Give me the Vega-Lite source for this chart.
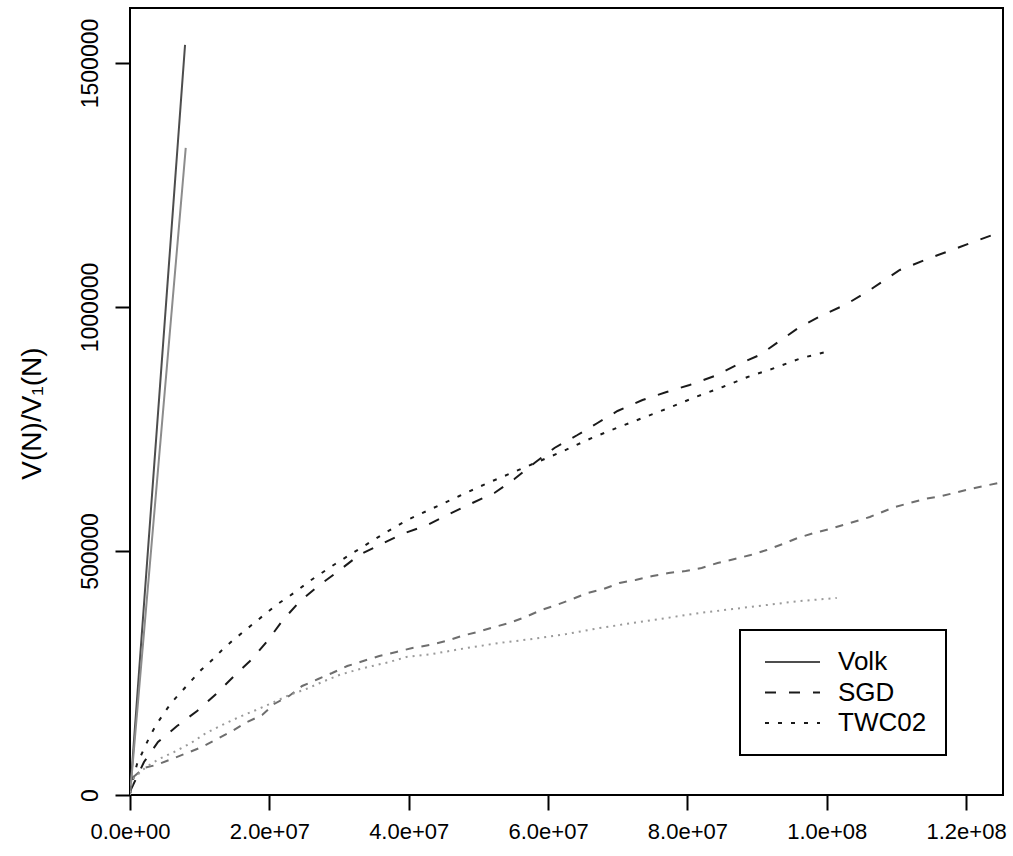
{
  "$schema": "https://vega.github.io/schema/vega-lite/v6.json",
  "autosize": "none",
  "width": 873,
  "height": 787,
  "padding": {"left": 130, "top": 8, "right": 10, "bottom": 61},
  "background": "white",
  "config": {
    "view": {"stroke": "black", "strokeWidth": 2},
    "font": "Liberation Sans",
    "axis": {"grid": false, "domain": false, "tickColor": "black", "tickWidth": 2, "tickSize": 15, "labelColor": "black", "labelFont": "Liberation Sans", "titleFont": "Liberation Sans", "titleColor": "black", "titleFontWeight": "normal"},
    "legend": {"title": null, "orient": "none", "legendX": 610, "legendY": 622,
        "symbolType": "M-5,0H5", "symbolSize": 121, "symbolFillColor": "transparent", "symbolOffset": 20.5,
        "labelOffset": 32.5, "labelFontSize": 26, "labelFont": "Liberation Sans", "labelColor": "black",
        "padding": 19, "rowPadding": 4.5, "strokeColor": "black", "fillColor": "white", "cornerRadius": 0}
  },
  "data": {"values": [
    {"s": "Volk", "x": 0, "y": 0}, {"s": "Volk", "x": 7900000, "y": 1537000},
    {"s": "Volk-b", "x": 0, "y": 0}, {"s": "Volk-b", "x": 8000000, "y": 1326000},
    {"s": "SGD", "x": 100000, "y": 10000}, {"s": "SGD", "x": 2010000, "y": 67600}, {"s": "SGD", "x": 4020000, "y": 108600}, {"s": "SGD", "x": 6750000, "y": 141400}, {"s": "SGD", "x": 9630000, "y": 172100}, {"s": "SGD", "x": 12360000, "y": 207000}, {"s": "SGD", "x": 14800000, "y": 241800}, {"s": "SGD", "x": 17530000, "y": 278700}, {"s": "SGD", "x": 19830000, "y": 317600}, {"s": "SGD", "x": 21840000, "y": 356600}, {"s": "SGD", "x": 24280000, "y": 395500}, {"s": "SGD", "x": 27010000, "y": 428300}, {"s": "SGD", "x": 29740000, "y": 457000}, {"s": "SGD", "x": 32900000, "y": 491800}, {"s": "SGD", "x": 35780000, "y": 512300}, {"s": "SGD", "x": 39080000, "y": 534800}, {"s": "SGD", "x": 42670000, "y": 553300}, {"s": "SGD", "x": 45830000, "y": 575800}, {"s": "SGD", "x": 49140000, "y": 598400}, {"s": "SGD", "x": 52300000, "y": 618900}, {"s": "SGD", "x": 55170000, "y": 647500}, {"s": "SGD", "x": 58050000, "y": 680300}, {"s": "SGD", "x": 60920000, "y": 711100}, {"s": "SGD", "x": 64220000, "y": 737700}, {"s": "SGD", "x": 67100000, "y": 762300}, {"s": "SGD", "x": 69970000, "y": 786900}, {"s": "SGD", "x": 73560000, "y": 809400}, {"s": "SGD", "x": 77010000, "y": 825800}, {"s": "SGD", "x": 80320000, "y": 840200}, {"s": "SGD", "x": 83910000, "y": 858600}, {"s": "SGD", "x": 87070000, "y": 881100}, {"s": "SGD", "x": 90370000, "y": 901600}, {"s": "SGD", "x": 93250000, "y": 930300}, {"s": "SGD", "x": 96120000, "y": 959000}, {"s": "SGD", "x": 99420000, "y": 983600}, {"s": "SGD", "x": 102870000, "y": 1006100}, {"s": "SGD", "x": 106180000, "y": 1034800}, {"s": "SGD", "x": 110490000, "y": 1075800}, {"s": "SGD", "x": 114800000, "y": 1100400}, {"s": "SGD", "x": 119110000, "y": 1122900}, {"s": "SGD", "x": 125300000, "y": 1155700},
    {"s": "TWC02", "x": 50000, "y": 5000}, {"s": "TWC02", "x": 290000, "y": 24600}, {"s": "TWC02", "x": 1010000, "y": 63500}, {"s": "TWC02", "x": 1870000, "y": 90200}, {"s": "TWC02", "x": 2730000, "y": 116800}, {"s": "TWC02", "x": 3740000, "y": 143400}, {"s": "TWC02", "x": 4890000, "y": 168000}, {"s": "TWC02", "x": 6030000, "y": 190600}, {"s": "TWC02", "x": 7470000, "y": 213100}, {"s": "TWC02", "x": 8760000, "y": 233600}, {"s": "TWC02", "x": 10200000, "y": 256100}, {"s": "TWC02", "x": 11780000, "y": 276600}, {"s": "TWC02", "x": 13220000, "y": 297100}, {"s": "TWC02", "x": 14660000, "y": 315600}, {"s": "TWC02", "x": 16240000, "y": 334000}, {"s": "TWC02", "x": 17820000, "y": 352500}, {"s": "TWC02", "x": 19400000, "y": 370900}, {"s": "TWC02", "x": 20980000, "y": 389300}, {"s": "TWC02", "x": 22700000, "y": 405700}, {"s": "TWC02", "x": 24280000, "y": 422100}, {"s": "TWC02", "x": 26010000, "y": 440600}, {"s": "TWC02", "x": 27730000, "y": 457000}, {"s": "TWC02", "x": 29450000, "y": 473400}, {"s": "TWC02", "x": 32900000, "y": 504100}, {"s": "TWC02", "x": 36350000, "y": 534800}, {"s": "TWC02", "x": 39800000, "y": 563500}, {"s": "TWC02", "x": 43530000, "y": 588100}, {"s": "TWC02", "x": 47270000, "y": 612700}, {"s": "TWC02", "x": 51010000, "y": 637300}, {"s": "TWC02", "x": 54740000, "y": 659800}, {"s": "TWC02", "x": 58480000, "y": 682400}, {"s": "TWC02", "x": 62210000, "y": 704900}, {"s": "TWC02", "x": 65950000, "y": 729500}, {"s": "TWC02", "x": 69830000, "y": 752000}, {"s": "TWC02", "x": 73560000, "y": 772500}, {"s": "TWC02", "x": 77300000, "y": 793000}, {"s": "TWC02", "x": 81180000, "y": 815600}, {"s": "TWC02", "x": 85060000, "y": 836100}, {"s": "TWC02", "x": 88650000, "y": 856600}, {"s": "TWC02", "x": 92530000, "y": 875000}, {"s": "TWC02", "x": 96410000, "y": 895500}, {"s": "TWC02", "x": 100430000, "y": 909800},
    {"s": "SGD-b", "x": 50000, "y": 5000}, {"s": "SGD-b", "x": 290000, "y": 34800}, {"s": "SGD-b", "x": 2010000, "y": 55300}, {"s": "SGD-b", "x": 3740000, "y": 61500}, {"s": "SGD-b", "x": 6030000, "y": 73800}, {"s": "SGD-b", "x": 8190000, "y": 86100}, {"s": "SGD-b", "x": 10340000, "y": 98400}, {"s": "SGD-b", "x": 12500000, "y": 114800}, {"s": "SGD-b", "x": 14660000, "y": 131100}, {"s": "SGD-b", "x": 16810000, "y": 149600}, {"s": "SGD-b", "x": 18970000, "y": 163900}, {"s": "SGD-b", "x": 20690000, "y": 186500}, {"s": "SGD-b", "x": 22840000, "y": 202900}, {"s": "SGD-b", "x": 24710000, "y": 223400}, {"s": "SGD-b", "x": 27010000, "y": 237700}, {"s": "SGD-b", "x": 29020000, "y": 250000}, {"s": "SGD-b", "x": 31180000, "y": 264300}, {"s": "SGD-b", "x": 33480000, "y": 274600}, {"s": "SGD-b", "x": 35780000, "y": 284800}, {"s": "SGD-b", "x": 38220000, "y": 293000}, {"s": "SGD-b", "x": 40520000, "y": 301200}, {"s": "SGD-b", "x": 42960000, "y": 307400}, {"s": "SGD-b", "x": 45400000, "y": 315600}, {"s": "SGD-b", "x": 47560000, "y": 325800}, {"s": "SGD-b", "x": 49860000, "y": 334000}, {"s": "SGD-b", "x": 52300000, "y": 344300}, {"s": "SGD-b", "x": 54450000, "y": 352500}, {"s": "SGD-b", "x": 56750000, "y": 364800}, {"s": "SGD-b", "x": 59050000, "y": 379100}, {"s": "SGD-b", "x": 61210000, "y": 389300}, {"s": "SGD-b", "x": 63510000, "y": 401600}, {"s": "SGD-b", "x": 65660000, "y": 413900}, {"s": "SGD-b", "x": 67960000, "y": 422100}, {"s": "SGD-b", "x": 70260000, "y": 434400}, {"s": "SGD-b", "x": 72560000, "y": 440600}, {"s": "SGD-b", "x": 75000000, "y": 448800}, {"s": "SGD-b", "x": 77300000, "y": 454900}, {"s": "SGD-b", "x": 79740000, "y": 459000}, {"s": "SGD-b", "x": 82040000, "y": 465200}, {"s": "SGD-b", "x": 84340000, "y": 475400}, {"s": "SGD-b", "x": 86780000, "y": 483600}, {"s": "SGD-b", "x": 89080000, "y": 491800}, {"s": "SGD-b", "x": 91380000, "y": 502000}, {"s": "SGD-b", "x": 93680000, "y": 514300}, {"s": "SGD-b", "x": 95830000, "y": 526600}, {"s": "SGD-b", "x": 98130000, "y": 536900}, {"s": "SGD-b", "x": 100430000, "y": 545100}, {"s": "SGD-b", "x": 102870000, "y": 555300}, {"s": "SGD-b", "x": 106180000, "y": 569700}, {"s": "SGD-b", "x": 109770000, "y": 590200}, {"s": "SGD-b", "x": 114080000, "y": 606600}, {"s": "SGD-b", "x": 116520000, "y": 612700}, {"s": "SGD-b", "x": 118820000, "y": 620900}, {"s": "SGD-b", "x": 121260000, "y": 629100}, {"s": "SGD-b", "x": 125300000, "y": 641400},
    {"s": "TWC02-b", "x": 50000, "y": 5000}, {"s": "TWC02-b", "x": 290000, "y": 30700}, {"s": "TWC02-b", "x": 2300000, "y": 57400}, {"s": "TWC02-b", "x": 4170000, "y": 73800}, {"s": "TWC02-b", "x": 6320000, "y": 88100}, {"s": "TWC02-b", "x": 8760000, "y": 106600}, {"s": "TWC02-b", "x": 10920000, "y": 127000}, {"s": "TWC02-b", "x": 13220000, "y": 143400}, {"s": "TWC02-b", "x": 15660000, "y": 159800}, {"s": "TWC02-b", "x": 18100000, "y": 174200}, {"s": "TWC02-b", "x": 20400000, "y": 188500}, {"s": "TWC02-b", "x": 22840000, "y": 204900}, {"s": "TWC02-b", "x": 25290000, "y": 217200}, {"s": "TWC02-b", "x": 27590000, "y": 231600}, {"s": "TWC02-b", "x": 30030000, "y": 245900}, {"s": "TWC02-b", "x": 32470000, "y": 256100}, {"s": "TWC02-b", "x": 34770000, "y": 264300}, {"s": "TWC02-b", "x": 37210000, "y": 272500}, {"s": "TWC02-b", "x": 39660000, "y": 282800}, {"s": "TWC02-b", "x": 43390000, "y": 288900}, {"s": "TWC02-b", "x": 48280000, "y": 301200}, {"s": "TWC02-b", "x": 53020000, "y": 311500}, {"s": "TWC02-b", "x": 57760000, "y": 319700}, {"s": "TWC02-b", "x": 62640000, "y": 329900}, {"s": "TWC02-b", "x": 67390000, "y": 342200}, {"s": "TWC02-b", "x": 72130000, "y": 352500}, {"s": "TWC02-b", "x": 77010000, "y": 362700}, {"s": "TWC02-b", "x": 81750000, "y": 373000}, {"s": "TWC02-b", "x": 86490000, "y": 381100}, {"s": "TWC02-b", "x": 91380000, "y": 389300}, {"s": "TWC02-b", "x": 96120000, "y": 397500}, {"s": "TWC02-b", "x": 101440000, "y": 403700}
  ]},
  "mark": {"type": "line", "clip": true, "strokeCap": "butt"},
  "encoding": {
    "x": {"field": "x", "type": "quantitative", "scale": {"domain": [0, 125300000], "nice": false, "zero": false},
      "axis": {"values": [0, 20000000, 40000000, 60000000, 80000000, 100000000, 120000000], "labelExpr": "slice(format(datum.value,'.1e'),0,5) + '0' + slice(format(datum.value,'.1e'),5)", "labelFontSize": 22, "labelPadding": 11, "title": null, "labelFlush": false, "labelOverlap": false}},
    "y": {"field": "y", "type": "quantitative", "scale": {"domain": [0, 1612700], "nice": false, "zero": false},
      "axis": {"values": [0, 500000, 1000000, 1500000], "format": "d", "labelFontSize": 23, "labelAngle": 270, "labelAlign": "center", "labelBaseline": "alphabetic", "labelPadding": 18, "labelFlush": false, "labelOverlap": false,
        "title": "V(N)/V₁(N)", "titleFontSize": 28, "titleAngle": 270, "titleAlign": "center", "titleBaseline": "alphabetic", "titleX": -90, "titleY": 405}},
    "color": {"field": "s", "type": "nominal",
      "scale": {"domain": ["Volk", "Volk-b", "SGD", "SGD-b", "TWC02", "TWC02-b"], "range": ["#4d4d4d", "#8c8c8c", "#1a1a1a", "#6e6e6e", "#1a1a1a", "#9a9a9a"]},
      "legend": {"values": ["Volk", "SGD", "TWC02"], "encode": {"legend": {"update": {"strokeWidth": {"value": 2}}}, "symbols": {"update": {"strokeWidth": {"value": 4}, "stroke": {"signal": "datum.value === 'Volk' ? '#666666' : '#111111'"}}}}}},
    "strokeWidth": {"field": "s", "type": "nominal",
      "scale": {"domain": ["Volk", "Volk-b", "SGD", "SGD-b", "TWC02", "TWC02-b"], "range": [2, 2, 3.2, 2, 4, 2]},
      "legend": {"values": ["Volk", "SGD", "TWC02"], "encode": {"legend": {"update": {"strokeWidth": {"value": 2}}}, "symbols": {"update": {"strokeWidth": {"value": 4}, "stroke": {"signal": "datum.value === 'Volk' ? '#666666' : '#111111'"}}}}}},
    "strokeDash": {"field": "s", "type": "nominal",
      "scale": {"domain": ["Volk", "Volk-b", "SGD", "SGD-b", "TWC02", "TWC02-b"], "range": [[1, 0], [1, 0], [11, 13], [8, 8], [4, 9], [2, 5]]},
      "legend": {"values": ["Volk", "SGD", "TWC02"], "encode": {"legend": {"update": {"strokeWidth": {"value": 2}}}, "symbols": {"update": {"strokeWidth": {"value": 4}, "stroke": {"signal": "datum.value === 'Volk' ? '#666666' : '#111111'"}}}}}}
  }
}
